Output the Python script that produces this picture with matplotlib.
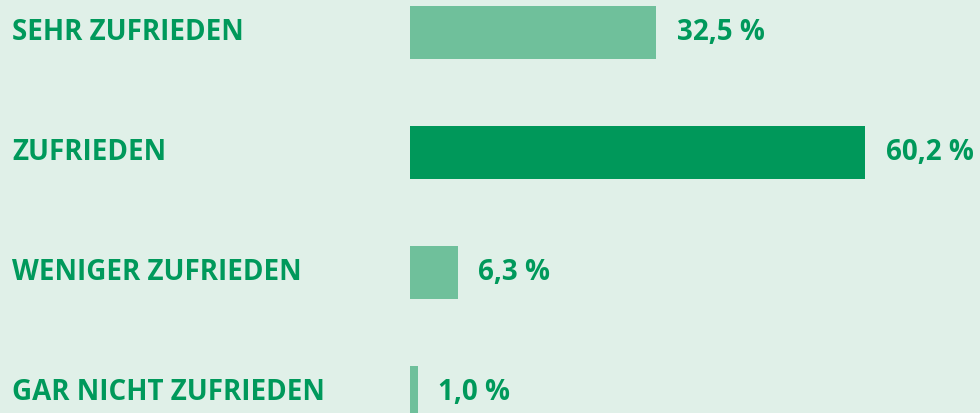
# Zufriedenheit - horizontal bar chart
import matplotlib
matplotlib.use('Agg')
import matplotlib.pyplot as plt
from matplotlib.transforms import blended_transform_factory

# Data
categories = ['SEHR ZUFRIEDEN', 'ZUFRIEDEN', 'WENIGER ZUFRIEDEN', 'GAR NICHT ZUFRIEDEN']
values = [32.5, 60.2, 6.3, 1.0]
highlight = [False, True, False, False]

# Styles
bg = '#e0f0e8'
light = '#6fc09b'
dark = '#00985a'
text_col = '#00995b'

plt.rcParams['font.family'] = ['Open Sans', 'DejaVu Sans']

fig = plt.figure(figsize=(9.8, 4.14), dpi=100)
fig.patch.set_facecolor(bg)
ax = fig.add_axes([410 / 980, 0, 570 / 980, 1])
ax.set_facecolor(bg)

ypos = list(range(len(values)))
colors = [dark if h else light for h in highlight]
ax.barh(ypos, values, height=53 / 120, color=colors, align='center')

ax.set_xlim(0, 570 / 7.56)
ax.set_ylim(3 + 21 / 120, -33 / 120)
ax.axis('off')

trans = blended_transform_factory(fig.transFigure, ax.transData)
for y, cat in zip(ypos, categories):
    ax.text(12 / 980, y, cat, transform=trans, ha='left', va='center',
            fontsize=20, fontweight='bold', color=text_col)

for y, v in zip(ypos, values):
    label = f'{v:.1f}'.replace('.', ',') + ' %'
    ax.annotate(label, (v, y), xytext=(15, 0), textcoords='offset points',
                ha='left', va='center', fontsize=20, fontweight='bold',
                color=text_col)

fig.savefig('out.png', dpi=100, facecolor=bg)
